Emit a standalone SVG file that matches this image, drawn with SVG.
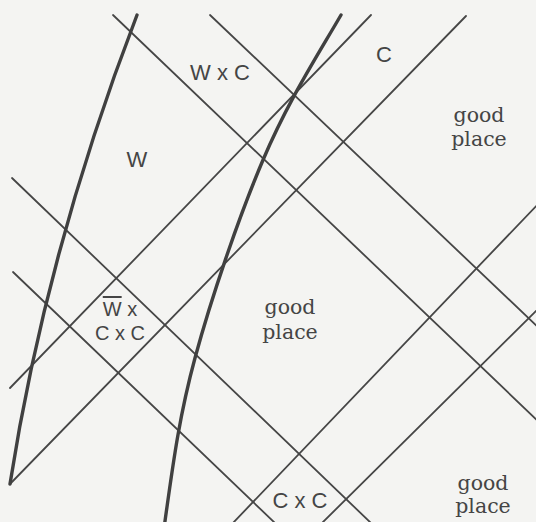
<svg xmlns="http://www.w3.org/2000/svg" width="536" height="522" viewBox="0 0 536 522">
<style>
.bg{fill:#f4f4f2}
.thin{stroke:#464646;stroke-width:1.8;fill:none;stroke-linecap:round}
.thick{stroke:#404040;stroke-width:3.4;fill:none;stroke-linecap:round}
.sans{font-family:"Liberation Sans",Arial,sans-serif;font-size:22px;fill:#454545;text-anchor:middle}
.small{font-size:20px}
.serif{font-family:"DejaVu Serif","Liberation Serif",serif;font-size:20.5px;fill:#454545;text-anchor:middle}
</style>
<rect class="bg" width="536" height="522"/>
<g id="connectors">
  <g id="lines-down" class="thin">
    <line x1="113" y1="15" x2="540" y2="423"/>
    <line x1="210" y1="15" x2="540" y2="329"/>
    <line x1="12" y1="178" x2="372" y2="524"/>
    <line x1="13" y1="272" x2="276" y2="524"/>
  </g>
  <g id="lines-up" class="thin">
    <line x1="371" y1="15" x2="10" y2="388"/>
    <line x1="466" y1="16" x2="10" y2="484"/>
    <line x1="540" y1="202" x2="232" y2="524"/>
    <line x1="540" y1="307" x2="321" y2="524"/>
  </g>
  <g id="boundaries" class="thick">
    <path d="M137,15 Q46.5,250 10,484"/>
    <path d="M341,15 C313,63 287.3,102.8 263,160 C238.7,217.2 211.3,297.8 195,358 C178.7,418.2 172.6,467 164.6,524"/>
  </g>
</g>
<g id="label-W"><text class="sans" x="137" y="167">W</text></g>
<g id="label-WxC"><text class="sans" x="220" y="80">W x C</text></g>
<g id="label-C"><text class="sans" x="384" y="62">C</text></g>
<g id="label-notWxCxC"><text class="sans small" x="120" y="316"><tspan style="text-decoration:overline">W</tspan> x<tspan x="120" dy="23.5">C x C</tspan></text></g>
<g id="label-CxC-bottom"><text class="sans" x="300" y="508">C x C</text></g>
<g id="good-place-top"><text class="serif" x="479" y="122">good<tspan x="479" dy="24">place</tspan></text></g>
<g id="good-place-mid"><text class="serif" x="290" y="314">good<tspan x="290" dy="25">place</tspan></text></g>
<g id="good-place-bottom"><text class="serif" x="483" y="490">good<tspan x="483" dy="23">place</tspan></text></g>
</svg>
